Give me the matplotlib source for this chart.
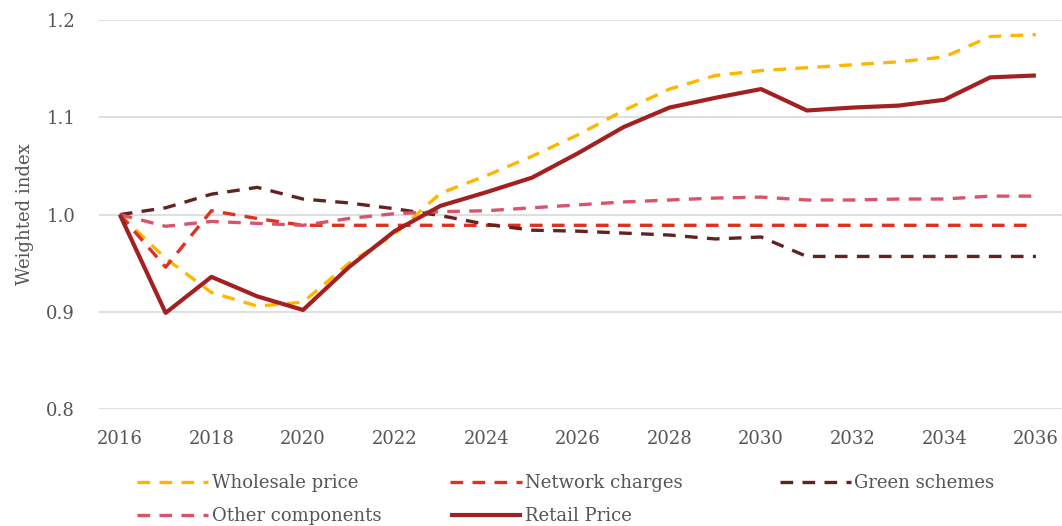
import matplotlib.pyplot as plt

# values
years = list(range(2016, 2037))
wholesale = [1.000, 0.955, 0.920, 0.906, 0.910, 0.950, 0.980, 1.022, 1.040, 1.060, 1.082,
             1.107, 1.129, 1.143, 1.148, 1.151, 1.154, 1.157, 1.162, 1.183, 1.185]
network = [1.000, 0.946, 1.004, 0.996, 0.989, 0.989, 0.989, 0.989, 0.989, 0.989, 0.989,
           0.989, 0.989, 0.989, 0.989, 0.989, 0.989, 0.989, 0.989, 0.989, 0.989]
green = [1.000, 1.007, 1.021, 1.028, 1.016, 1.012, 1.006, 0.999, 0.990, 0.984, 0.983,
         0.981, 0.979, 0.975, 0.977, 0.957, 0.957, 0.957, 0.957, 0.957, 0.957]
other = [1.000, 0.988, 0.993, 0.991, 0.989, 0.996, 1.001, 1.003, 1.004, 1.007, 1.010,
         1.013, 1.015, 1.017, 1.018, 1.015, 1.015, 1.016, 1.016, 1.019, 1.019]
retail = [1.000, 0.899, 0.936, 0.916, 0.902, 0.946, 0.983, 1.009, 1.023, 1.038, 1.063,
          1.090, 1.110, 1.120, 1.129, 1.107, 1.110, 1.112, 1.118, 1.141, 1.143]
yticks = [0.8, 0.9, 1.0, 1.1, 1.2]
xticks = list(range(2016, 2037, 2))

plt.rcParams['font.family'] = ['DejaVu Serif']
txt = '#555555'
fs = 13

fig = plt.figure(figsize=(10.62, 5.26), dpi=100)
ax = fig.add_axes([0.093, 0.222, 0.907, 0.740])

dash = (3.8, 2.8)
l1, = ax.plot(years, wholesale, color='#FFB600', lw=2.4, dashes=dash, label='Wholesale price')
l2, = ax.plot(years, network, color='#E0301E', lw=2.4, dashes=dash, label='Network charges')
l3, = ax.plot(years, green, color='#602320', lw=2.4, dashes=dash, label='Green schemes')
l4, = ax.plot(years, other, color='#DB536A', lw=2.4, dashes=dash, label='Other components')
l5, = ax.plot(years, retail, color='#A32020', lw=3.0, label='Retail Price', solid_capstyle='butt')

ax.set_xlim(2015.54, 2036.57)
ax.set_ylim(0.8, 1.2)
ax.set_yticks(yticks)
ax.set_yticklabels([f'{v:.1f}' for v in yticks])
ax.set_xticks(xticks)
ax.grid(axis='y', color='#d9d9d9', lw=1.2)
ax.set_axisbelow(True)
for s in ax.spines.values():
    s.set_visible(False)
ax.tick_params(length=0, labelsize=fs, colors=txt, pad=15)
ax.tick_params(axis='y', pad=17)
ax.set_ylabel('Weighted index', fontsize=fs, color=txt, labelpad=9)

# three legend columns at fixed positions, like the original
cols = [([l1, l4], 0.129), ([l2, l5], 0.424), ([l3], 0.734)]
for handles, x0 in cols:
    fig.legend(handles=handles, loc='upper left', bbox_to_anchor=(x0, 0.098), frameon=False,
               fontsize=fs, handlelength=3.95, handletextpad=0.2, labelspacing=0.8,
               labelcolor=txt, borderaxespad=0, borderpad=0)

fig.savefig('out.png', dpi=100)
